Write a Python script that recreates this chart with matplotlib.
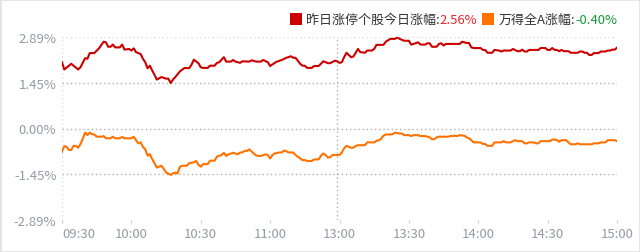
import matplotlib
matplotlib.use("Agg")
import matplotlib.pyplot as plt
from matplotlib.offsetbox import TextArea, DrawingArea, HPacker, AnchoredOffsetbox
from matplotlib.patches import Rectangle

plt.rcParams['font.family'] = ['Noto Sans CJK SC', 'DejaVu Sans']

# minutes since 09:30 (lunch break removed), 240 = 15:00
tick_pos = [0, 30, 60, 90, 120, 150, 180, 210, 240]
tick_labels = ['09:30', '10:00', '10:30', '11:00', '13:00', '13:30', '14:00', '14:30', '15:00']
y_ticks = [2.89, 1.45, 0.0, -1.45, -2.89]
y_labels = ['2.89%', '1.45%', '0.00%', '-1.45%', '-2.89%']

# 昨日涨停个股今日涨幅 (%)
zt_min = [0, 1, 4, 7, 8, 10, 11, 12, 14, 16,
          18, 19, 20, 21, 22, 23, 25, 26, 27, 29,
          30, 31, 32, 34, 35, 36, 37, 38, 39, 40,
          41, 43, 45, 46, 47, 48, 49, 51, 53, 55,
          56, 57, 59, 60, 61, 63, 64, 66, 67, 68,
          70, 71, 73, 74, 75, 77, 78, 81, 82, 84,
          86, 87, 89, 90, 92, 93, 95, 97, 99, 100,
          101, 103, 104, 105, 106, 108, 109, 111, 113, 115,
          116, 118, 119, 120, 121, 122, 123, 125, 126, 127,
          128, 129, 131, 132, 134, 135, 136, 139, 140, 142,
          144, 145, 146, 148, 150, 151, 152, 154, 155, 157,
          158, 159, 160, 162, 163, 164, 165, 166, 168, 172,
          173, 175, 176, 177, 178, 181, 182, 183, 184, 186,
          187, 189, 190, 191, 194, 195, 197, 198, 199, 200,
          201, 202, 206, 207, 209, 210, 211, 212, 213, 214,
          215, 216, 217, 219, 220, 223, 224, 225, 226, 227,
          228, 229, 230, 232, 233, 235, 236, 237, 238, 239,
          240]
zt_pct = [2.10, 1.87, 2.05, 1.87, 1.94, 2.23, 2.21, 2.39, 2.39, 2.54,
          2.75, 2.73, 2.59, 2.59, 2.66, 2.57, 2.57, 2.66, 2.50, 2.52,
          2.47, 2.54, 2.42, 2.36, 2.21, 2.10, 1.91, 1.99, 1.84, 1.70,
          1.55, 1.63, 1.58, 1.58, 1.44, 1.55, 1.63, 1.81, 1.92, 1.91,
          2.02, 2.18, 2.07, 1.94, 1.92, 1.92, 1.99, 1.99, 2.08, 2.10,
          2.26, 2.12, 2.12, 2.17, 2.12, 2.08, 2.13, 2.12, 2.16, 2.12,
          2.12, 2.17, 2.10, 1.98, 2.08, 2.12, 2.17, 2.24, 2.29, 2.24,
          2.24, 2.05, 1.99, 1.99, 1.92, 1.92, 1.98, 1.98, 2.13, 2.07,
          2.07, 2.15, 2.13, 2.08, 2.10, 2.26, 2.40, 2.26, 2.28, 2.40,
          2.52, 2.42, 2.40, 2.47, 2.47, 2.52, 2.65, 2.65, 2.75, 2.84,
          2.84, 2.89, 2.84, 2.78, 2.78, 2.66, 2.68, 2.73, 2.66, 2.66,
          2.70, 2.70, 2.59, 2.59, 2.68, 2.70, 2.63, 2.68, 2.68, 2.68,
          2.75, 2.71, 2.71, 2.57, 2.55, 2.55, 2.49, 2.49, 2.40, 2.40,
          2.49, 2.47, 2.44, 2.47, 2.47, 2.52, 2.45, 2.45, 2.50, 2.44,
          2.44, 2.49, 2.49, 2.55, 2.55, 2.49, 2.49, 2.55, 2.49, 2.49,
          2.45, 2.49, 2.45, 2.45, 2.40, 2.40, 2.44, 2.44, 2.40, 2.40,
          2.33, 2.33, 2.39, 2.39, 2.44, 2.44, 2.47, 2.47, 2.50, 2.50,
          2.56]

# 万得全A涨幅 (%)
qa_min = [0, 1, 2, 3, 4, 5, 6, 7, 8, 9,
          10, 11, 12, 13, 14, 15, 17, 18, 19, 21,
          22, 23, 25, 26, 27, 30, 31, 32, 33, 34,
          35, 36, 37, 38, 39, 40, 41, 43, 44, 45,
          47, 48, 49, 50, 51, 52, 54, 55, 57, 58,
          59, 60, 61, 63, 64, 66, 67, 69, 70, 71,
          72, 74, 75, 76, 77, 78, 79, 80, 81, 82,
          84, 86, 88, 89, 90, 91, 92, 94, 95, 96,
          97, 98, 100, 101, 103, 104, 105, 106, 108, 109,
          111, 112, 113, 114, 115, 116, 117, 120, 121, 122,
          123, 125, 126, 127, 128, 131, 132, 135, 136, 137,
          138, 139, 140, 142, 143, 144, 146, 147, 148, 150,
          151, 152, 154, 155, 157, 159, 160, 161, 162, 163,
          167, 168, 170, 171, 172, 174, 175, 176, 177, 178,
          181, 182, 183, 184, 186, 187, 190, 191, 192, 194,
          195, 196, 197, 199, 200, 201, 202, 204, 205, 206,
          207, 211, 212, 214, 215, 216, 218, 219, 220, 222,
          223, 224, 229, 230, 232, 233, 235, 236, 239, 240]
qa_pct = [-0.73, -0.56, -0.58, -0.68, -0.68, -0.55, -0.55, -0.61, -0.49, -0.32,
          -0.13, -0.21, -0.13, -0.18, -0.19, -0.26, -0.26, -0.24, -0.31, -0.31,
          -0.26, -0.31, -0.31, -0.27, -0.31, -0.31, -0.26, -0.37, -0.47, -0.44,
          -0.58, -0.66, -0.86, -0.81, -0.97, -1.10, -1.24, -1.18, -1.28, -1.39,
          -1.47, -1.42, -1.40, -1.42, -1.21, -1.18, -1.18, -1.10, -1.07, -1.03,
          -1.15, -1.21, -1.13, -1.13, -1.02, -1.02, -0.89, -0.84, -0.77, -0.87,
          -0.82, -0.77, -0.79, -0.82, -0.76, -0.76, -0.71, -0.71, -0.66, -0.73,
          -0.86, -0.87, -0.82, -0.84, -0.95, -0.84, -0.79, -0.76, -0.76, -0.70,
          -0.72, -0.76, -0.76, -0.84, -0.95, -1.00, -1.00, -1.03, -1.03, -0.98,
          -0.98, -0.86, -0.79, -0.84, -0.92, -0.91, -0.84, -0.84, -0.76, -0.63,
          -0.55, -0.61, -0.61, -0.55, -0.53, -0.53, -0.44, -0.44, -0.39, -0.38,
          -0.32, -0.23, -0.19, -0.19, -0.18, -0.13, -0.16, -0.16, -0.21, -0.21,
          -0.24, -0.21, -0.21, -0.24, -0.24, -0.28, -0.34, -0.34, -0.28, -0.26,
          -0.26, -0.24, -0.23, -0.24, -0.21, -0.23, -0.28, -0.31, -0.37, -0.44,
          -0.44, -0.49, -0.49, -0.55, -0.55, -0.44, -0.44, -0.40, -0.44, -0.44,
          -0.40, -0.37, -0.40, -0.40, -0.47, -0.47, -0.44, -0.44, -0.47, -0.47,
          -0.40, -0.40, -0.35, -0.36, -0.42, -0.37, -0.37, -0.44, -0.50, -0.50,
          -0.47, -0.50, -0.50, -0.47, -0.47, -0.44, -0.44, -0.37, -0.37, -0.40]

RED = '#cc0000'
ORANGE = '#ff7200'
GRAY = '#999999'

fig = plt.figure(figsize=(6.4, 2.53), dpi=100)
fig.patches.append(Rectangle((0, 0), 1, 1, transform=fig.transFigure, fill=False,
                             edgecolor='#e3e3e3', linewidth=2))
ax = fig.add_axes([62 / 640, 1 - 220.7 / 253, 555 / 640, (220.7 - 38.3) / 253])

# grid
for y in [1.45, 0.0, -1.45]:
    ax.axhline(y, color='#b0b0b0', lw=1, ls=(0, (1, 2)), zorder=1)
for y in [2.89, -2.89]:
    ax.axhline(y, color='#dcdcdc', lw=1, ls=(0, (1, 2)), zorder=1)
ax.axvline(119, color='#b0b0b0', lw=1, ls=(0, (1, 2)), zorder=1)
for x in [0, 240]:
    ax.axvline(x, color='#dcdcdc', lw=1, ls=(0, (1, 2)), zorder=1)

ax.plot(zt_min, zt_pct, color=RED, lw=1.5, zorder=3)
ax.plot(qa_min, qa_pct, color=ORANGE, lw=1.5, zorder=3)

ax.set_xlim(0, 240)
ax.set_ylim(-2.89, 2.89)
for s in ax.spines.values():
    s.set_visible(False)

ax.set_xticks(tick_pos)
ax.set_xticklabels(tick_labels)
ax.set_yticks(y_ticks)
ax.set_yticklabels(y_labels)
ax.tick_params(axis='x', length=2, color='#cccccc', colors='#949aa6', labelsize=9.5, pad=3)
ax.tick_params(axis='y', length=0, colors='#949aa6', labelsize=9.5, pad=4)
ax.get_xticklabels()[0].set_ha('left')

# legend line at top right
def square(color):
    da = DrawingArea(9, 9, 0, 0)
    da.add_artist(Rectangle((0, 0), 9, 9, facecolor=color, edgecolor='none'))
    return da

props = dict(fontsize=9.4)
items = [
    square(RED),
    HPacker(children=[TextArea('昨日涨停个股今日涨幅:', textprops=dict(color='#333333', **props)),
                      TextArea('2.56%', textprops=dict(color='#e8242b', **props))], pad=0, sep=0),
    square(ORANGE),
    HPacker(children=[TextArea('万得全A涨幅:', textprops=dict(color='#333333', **props)),
                      TextArea('-0.40%', textprops=dict(color='#109a3a', **props))], pad=0, sep=0),
]
box = HPacker(children=items, align='center', pad=0, sep=3)
anch = AnchoredOffsetbox(loc='center right', child=box, pad=0, borderpad=0, frameon=False,
                         bbox_to_anchor=(617 / 640, 1 - 20 / 253), bbox_transform=fig.transFigure)
fig.add_artist(anch)

fig.savefig('out.png', dpi=100)
